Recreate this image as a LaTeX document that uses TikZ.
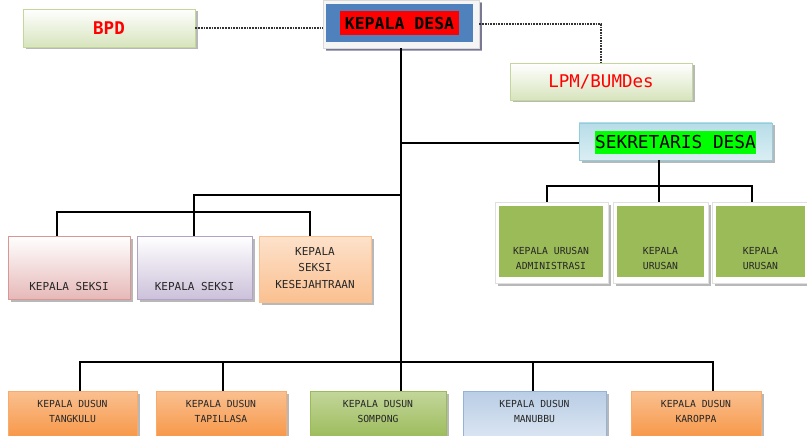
\documentclass[tikz,border=0pt]{standalone}
\usepackage{fontspec}
\newfontfamily\mono{DejaVu Sans Mono}
\usetikzlibrary{shadows}
\definecolor{lgreen}{HTML}{D7E4BD}
\definecolor{lgreenb}{HTML}{C3D69B}
\definecolor{kdblue}{HTML}{4F81BD}
\definecolor{sekt}{HTML}{B7DDE8}
\definecolor{sekb}{HTML}{DAEEF3}
\definecolor{sekd}{HTML}{93CDDD}
\definecolor{olive}{HTML}{9BBB59}
\definecolor{pinkb}{HTML}{E6B9B8}
\definecolor{pinkd}{HTML}{D99694}
\definecolor{lilab}{HTML}{CCC1DA}
\definecolor{lilad}{HTML}{B3A2C7}
\definecolor{orl}{HTML}{FCD5B5}
\definecolor{orm}{HTML}{FAC090}
\definecolor{ord}{HTML}{F79646}
\definecolor{bluel}{HTML}{DCE6F2}
\definecolor{bluem}{HTML}{B9CDE5}
\definecolor{blued}{HTML}{95B3D7}
\tikzset{
  shad/.style={drop shadow={shadow xshift=2.5pt, shadow yshift=-2.5pt, fill=black, opacity=0.28}},
  bx/.style={draw, line width=0.8pt, inner sep=0pt, shad},
  conn/.style={line width=1.3pt, black},
  dots/.style={line width=1.7pt, densely dotted, black!80},
  small/.style={font=\mono\fontsize{9.7}{15}\selectfont, text=black!85, align=center, inner sep=0pt},
  mid/.style={font=\mono\fontsize{11}{16.5}\selectfont, text=black!85, align=center, inner sep=0pt},
}
\begin{document}
\begin{tikzpicture}[x=1pt,y=-1pt]
\useasboundingbox (0,0) rectangle (807,436);
% top level
\node[bx, draw=lgreenb, top color=white, bottom color=lgreen, minimum width=172pt, minimum height=38pt] (bpd) at (109,28) {};
\node[font=\mono\bfseries\fontsize{17.5}{20}\selectfont, text=red] (bpdt) at (109,28) {BPD};
\node[bx, draw=black!15, fill=black!4, minimum width=156pt, minimum height=48pt, drop shadow={shadow xshift=2.5pt, shadow yshift=-3pt, fill=blue!30!black, opacity=0.35}] (kdo) at (401,24) {};
\node[fill=kdblue, inner sep=0pt, minimum width=147pt, minimum height=38pt] (kdi) at (399.5,23) {};
\node[fill=red, inner sep=0pt, minimum width=119pt, minimum height=24pt, font=\mono\bfseries\fontsize{16.5}{20}\selectfont] (kdt) at (399.5,23) {KEPALA~DESA};
\node[bx, draw=lgreenb, top color=white, bottom color=lgreen, minimum width=182pt, minimum height=37pt] (lpm) at (601,81.5) {};
\node[font=\mono\fontsize{17.5}{20}\selectfont, text=red] (lpmt) at (601,81.5) {LPM/BUMDes};
\node[bx, draw=sekd, top color=sekt, bottom color=sekb, minimum width=193pt, minimum height=37pt] (sek) at (675.5,141.5) {};
\node[fill=green, inner sep=0pt, minimum width=161pt, minimum height=23pt, font=\mono\fontsize{17.8}{20}\selectfont] (sekt) at (675.5,142.5) {SEKRETARIS DESA};
% dotted links
\draw[dots] (bpd.east) -- (kdo.west |- bpd.east);
\draw[dots] (kdo.east) -| (lpm.north);
% main trunk
\coordinate (jd) at (401,362);
\coordinate (js) at (401,143);
\coordinate (jk) at (401,195);
\draw[conn] (kdo.south) -- (jd);
\draw[conn] (js) -- (js -| sek.west);
% urusan
\node[bx, draw=black!12, fill=white, minimum width=113pt, minimum height=81pt] (u1o) at (551.5,242.5) {};
\node[fill=olive, inner sep=0pt, minimum width=104pt, minimum height=71pt] (u1) at (551,241.5) {};
\node[bx, draw=black!12, fill=white, minimum width=95pt, minimum height=81pt] (u2o) at (660.5,242.5) {};
\node[fill=olive, inner sep=0pt, minimum width=87pt, minimum height=71pt] (u2) at (660.5,241.5) {};
\node[bx, draw=black!12, fill=white, minimum width=96pt, minimum height=81pt] (u3o) at (760,242.5) {};
\node[fill=olive, inner sep=0pt, minimum width=89pt, minimum height=71pt] (u3) at (760.5,241.5) {};
\node[small] (u1t) at (551,258.5) {KEPALA URUSAN\\ADMINISTRASI};
\node[small] (u2t) at (660.5,258.5) {KEPALA\\URUSAN};
\node[small] (u3t) at (760.5,258.5) {KEPALA\\URUSAN};
\coordinate (ua) at (547,186);
\coordinate (ub) at (659,186);
\coordinate (uc) at (752,186);
\draw[conn] (ub |- sek.south) -- (ub);
\draw[conn] (ua |- u1o.north) -- (ua) -- (uc) -- (uc |- u3o.north);
\draw[conn] (ub) -- (ub |- u2o.north);
% seksi
\node[bx, draw=pinkd, top color=white, bottom color=pinkb, minimum width=122pt, minimum height=63pt] (s1) at (69,267.5) {};
\node[bx, draw=lilad, top color=white, bottom color=lilab, minimum width=115pt, minimum height=63pt] (s2) at (194.5,267.5) {};
\node[bx, draw=orm, top color=orl!70, bottom color=orm, minimum width=112pt, minimum height=66pt] (s3) at (315,269) {};
\node[mid] (s1t) at (69,286) {KEPALA SEKSI};
\node[mid] (s2t) at (194.5,286) {KEPALA SEKSI};
\node[mid] (s3t) at (315,268) {KEPALA\\SEKSI\\KESEJAHTRAAN};
\coordinate (ka) at (194,195);
\coordinate (kb) at (57,212);
\coordinate (kc) at (310,212);
\draw[conn] (jk) -- (ka) -- (ka |- s2.north);
\draw[conn] (kb |- s1.north) -- (kb) -- (kc) -- (kc |- s3.north);
% dusun
\node[bx, draw=ord!80, top color=orm, bottom color=ord, minimum width=129pt, minimum height=48pt] (d1) at (72.5,415) {};
\node[bx, draw=ord!80, top color=orm, bottom color=ord, minimum width=130pt, minimum height=48pt] (d2) at (221,415) {};
\node[bx, draw=olive, top color=lgreenb, bottom color=olive, minimum width=136pt, minimum height=48pt] (d3) at (378,415) {};
\node[bx, draw=blued, top color=bluem, bottom color=bluel, minimum width=143pt, minimum height=48pt] (d4) at (534.5,415) {};
\node[bx, draw=ord!80, top color=orm, bottom color=ord, minimum width=130pt, minimum height=48pt] (d5) at (696,415) {};
\node[small] (d1t) at (72.5,411.5) {KEPALA DUSUN\\TANGKULU};
\node[small] (d2t) at (221,411.5) {KEPALA DUSUN\\TAPILLASA};
\node[small] (d3t) at (378,411.5) {KEPALA DUSUN\\SOMPONG};
\node[small] (d4t) at (534.5,411.5) {KEPALA DUSUN\\MANUBBU};
\node[small] (d5t) at (696,411.5) {KEPALA DUSUN\\KAROPPA};
\coordinate (da) at (80,362);
\coordinate (db) at (223,362);
\coordinate (dc) at (533,362);
\coordinate (de) at (713,362);
\draw[conn] (da |- d1.north) -- (da) -- (de) -- (de |- d5.north);
\draw[conn] (db) -- (db |- d2.north);
\draw[conn] (jd) -- (jd |- d3.north);
\draw[conn] (dc) -- (dc |- d4.north);
\end{tikzpicture}
\end{document}
